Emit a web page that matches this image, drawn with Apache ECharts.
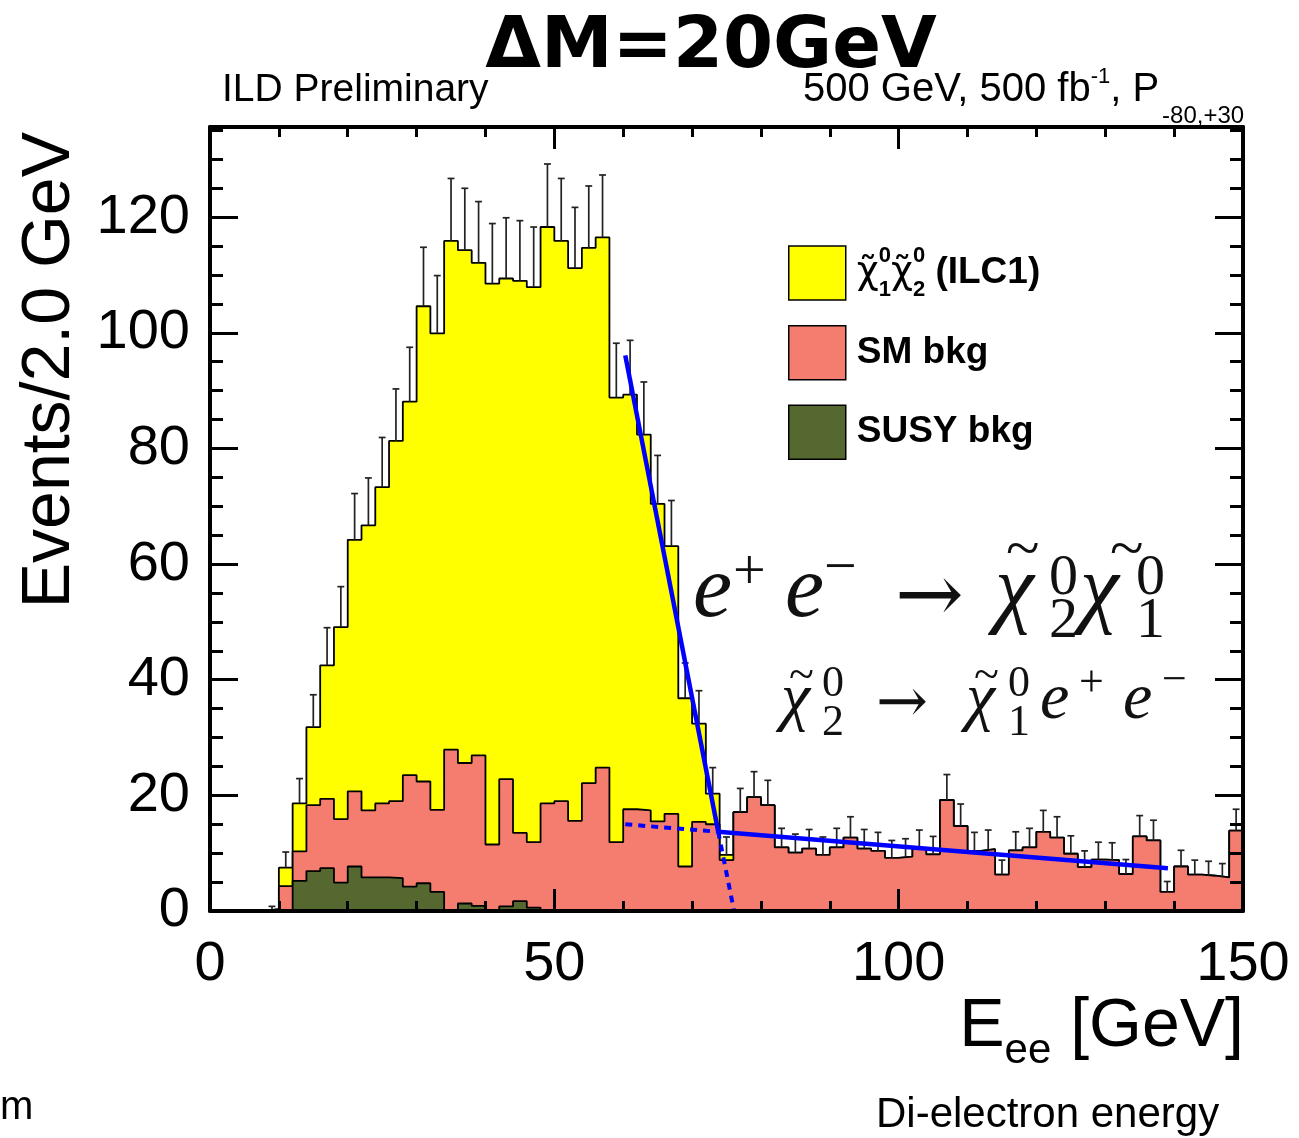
<!DOCTYPE html>
<html>
<head>
<meta charset="utf-8">
<script src="https://cdn.jsdelivr.net/npm/echarts@6/dist/echarts.min.js"></script>
<style>
  html, body { margin: 0; padding: 0; background: #ffffff; }
  #chart { width: 1299px; height: 1138px; }
</style>
</head>
<body>
<div id="chart"></div>
<script>
// Di-electron energy histogram, 2 GeV bins from 0 to 150 GeV (75 bins)
const binWidth = 2;
const xMin = 0, xMax = 150;
const yMax = 135.6;
const xTickLabels = [0, 50, 100, 150];
const yTickLabels = [0, 20, 40, 60, 80, 100, 120];

// SUSY background (bottom of the stack)
const susyBkg = [
  0, 0, 0, 0, 0, 0, 5.2, 6.9, 7.4, 4.9,
  7.7, 5.8, 5.8, 5.7, 4.2, 4.8, 3.3, 0, 1.3, 0.9,
  0, 0.8, 1.7, 0.6, 0, 0, 0, 0, 0, 0,
  0, 0, 0, 0, 0, 0, 0, 0, 0, 0,
  0, 0, 0, 0, 0, 0, 0, 0, 0, 0,
  0, 0, 0, 0, 0, 0, 0, 0, 0, 0,
  0, 0, 0, 0, 0, 0, 0, 0, 0, 0,
  0, 0, 0, 0, 0
];

// SM background (middle of the stack)
const smBkg = [
  0, 0, 0, 0, 0.3, 4.3, 5.1, 11.4, 12.0, 11.0,
  13.0, 11.6, 12.8, 13.3, 19.3, 17.6, 14.2, 27.9, 24.3, 26.0,
  11.5, 22.0, 11.8, 11.3, 18.6, 19.0, 15.6, 22.1, 24.8, 11.9,
  17.6, 17.4, 15.5, 16.8, 7.7, 15.4, 15.0, 8.8, 17.1, 19.7,
  18.3, 11.0, 10.1, 10.8, 9.7, 11.0, 12.7, 10.8, 10.4, 9.2,
  9.4, 10.7, 9.8, 19.2, 14.7, 10.4, 10.7, 6.3, 10.5, 11.0,
  13.7, 12.7, 9.9, 7.6, 8.9, 8.8, 6.4, 12.9, 12.2, 3.3,
  7.7, 6.3, 6.1, 5.8, 13.9
];

// Signal chi1 chi2 (top of the stack)
const signal = [
  0, 0, 0, 0, 0, 3.2, 8.3, 13.5, 23.1, 33.2,
  43.5, 49.3, 54.7, 62.3, 64.6, 82.2, 82.4, 88.0, 88.7, 85.2,
  97.0, 86.6, 95.5, 96.0, 99.7, 96.9, 95.6, 92.6, 91.7, 76.9,
  71.7, 65.0, 54.9, 46.3, 29.1, 17.0, 5.3, 0.9, 0, 0,
  0, 0, 0, 0, 0, 0, 0, 0, 0, 0,
  0, 0, 0, 0, 0, 0, 0, 0, 0, 0,
  0, 0, 0, 0, 0, 0, 0, 0, 0, 0,
  0, 0, 0, 0, 0
];

// Statistical uncertainty drawn above each stacked bin
const statErr = [
  0, 0, 0, 0, 0.5, 2.7, 4.3, 5.6, 6.5, 7.0,
  8.0, 8.2, 8.6, 9.0, 9.4, 10.2, 10.0, 10.8, 10.7, 10.6,
  10.4, 10.5, 10.4, 10.4, 10.9, 10.8, 10.5, 10.7, 10.8, 9.4,
  9.4, 9.1, 8.4, 7.9, 6.1, 5.7, 4.5, 3.1, 4.1, 4.4,
  4.3, 3.3, 3.2, 3.3, 3.1, 3.3, 3.6, 3.3, 3.2, 3.0,
  3.1, 3.3, 3.1, 4.4, 3.8, 3.2, 3.3, 2.5, 3.2, 3.3,
  3.7, 3.6, 3.1, 2.8, 3.0, 3.0, 2.5, 3.6, 3.5, 1.8,
  2.8, 2.5, 2.5, 2.4, 3.7
];

// Straight-line fits of the spectrum edge and of the background tail
const fitEdge = [[60.3, 96.1], [73.8, 13.7]];
const fitTail = [[73.8, 13.7], [139.1, 7.4]];
const fitTailExtension = [[60.3, 15.0], [73.8, 13.7]];
const fitEdgeExtension = [[73.8, 13.7], [76.1, 0]];

const colors = { signal: '#ffff00', sm: '#f57d70', susy: '#546830', fit: '#0000ff' };
const sans = 'Liberation Sans, Arial, Helvetica, sans-serif';
const serif = 'Liberation Serif, Times New Roman, serif';

// Cumulative stack tops
const greenTop = susyBkg.slice();
const redTop = susyBkg.map((v, i) => v + smBkg[i]);
const yellowTop = redTop.map((v, i) => v + signal[i]);

// Points for a step outline: one point per bin low edge, plus the last upper edge
function stepPoints(values) {
  const pts = values.map((v, i) => [xMin + i * binWidth, v]);
  pts.push([xMin + values.length * binWidth, values[values.length - 1]]);
  return pts;
}

const errData = [];
yellowTop.forEach((v, i) => {
  if (v > 0) errData.push([xMin + (i + 0.5) * binWidth, v, statErr[i]]);
});

function histSeries(name, values, fill, z) {
  return {
    name: name, type: 'line', step: 'end', data: stepPoints(values),
    symbol: 'none', silent: true, z: z,
    lineStyle: { color: '#000', width: 1.8 },
    areaStyle: { color: fill, opacity: 1 }
  };
}

function fitSeries(data, dashed) {
  return {
    type: 'line', data: data, symbol: 'none', silent: true, z: 8,
    lineStyle: { color: colors.fit, width: dashed ? 4 : 4.5, type: dashed ? [7, 6] : 'solid' }
  };
}

const commonX = { type: 'value', min: xMin, max: xMax, splitLine: { show: false }, z: 10 };
const commonY = { type: 'value', min: 0, max: yMax, splitLine: { show: false }, z: 10 };
const tickLine = { color: '#000', width: 3 };
const frameLine = { show: true, onZero: false, lineStyle: { color: '#000', width: 4 } };
const noLine = { show: false, onZero: false };

const chart = echarts.init(document.getElementById('chart'), null, { renderer: 'canvas' });

chart.setOption({
  animation: false,
  backgroundColor: '#ffffff',
  grid: { left: 210, right: 56, top: 127, bottom: 227, containLabel: false, outerBoundsMode: 'none' },
  xAxis: [
    Object.assign({}, commonX, {
      position: 'bottom', interval: 10, axisLine: frameLine,
      axisTick: { inside: true, length: 10, lineStyle: tickLine },
      axisLabel: {
        formatter: v => (xTickLabels.indexOf(v) >= 0 ? String(v) : ''),
        fontSize: 56, fontFamily: sans, color: '#000', margin: 26
      }
    }),
    Object.assign({}, commonX, {
      position: 'bottom', interval: 50, axisLine: noLine,
      axisTick: { inside: true, length: 22, lineStyle: tickLine }, axisLabel: { show: false }
    }),
    Object.assign({}, commonX, {
      position: 'top', interval: 10, axisLine: frameLine,
      axisTick: { inside: true, length: 10, lineStyle: tickLine }, axisLabel: { show: false }
    }),
    Object.assign({}, commonX, {
      position: 'top', interval: 50, axisLine: noLine,
      axisTick: { inside: true, length: 22, lineStyle: tickLine }, axisLabel: { show: false }
    })
  ],
  yAxis: [
    Object.assign({}, commonY, {
      position: 'left', interval: 5, axisLine: frameLine,
      axisTick: { inside: true, length: 13, lineStyle: tickLine },
      axisLabel: {
        formatter: v => (yTickLabels.indexOf(v) >= 0 ? String(v) : ''),
        fontSize: 56, fontFamily: sans, color: '#000', margin: 20
      }
    }),
    Object.assign({}, commonY, {
      position: 'left', interval: 20, axisLine: noLine,
      axisTick: { inside: true, length: 28, lineStyle: tickLine }, axisLabel: { show: false }
    }),
    Object.assign({}, commonY, {
      position: 'right', interval: 5, axisLine: frameLine,
      axisTick: { inside: true, length: 13, lineStyle: tickLine }, axisLabel: { show: false }
    }),
    Object.assign({}, commonY, {
      position: 'right', interval: 20, axisLine: noLine,
      axisTick: { inside: true, length: 28, lineStyle: tickLine }, axisLabel: { show: false }
    })
  ],
  legend: {
    orient: 'vertical', left: 788, top: 245, padding: 0,
    itemWidth: 57, itemHeight: 54, itemGap: 24, selectedMode: false,
    data: [
      { name: 'signal', icon: 'rect', itemStyle: { color: colors.signal, borderColor: '#000', borderWidth: 1.5 } },
      { name: 'SM bkg', icon: 'rect', itemStyle: { color: colors.sm, borderColor: '#000', borderWidth: 1.5 } },
      { name: 'SUSY bkg', icon: 'rect', itemStyle: { color: colors.susy, borderColor: '#000', borderWidth: 1.5 } }
    ],
    formatter: name => name === 'signal'
      ? '{chi|χ̃}{sp|0}{sb|1}{chi|χ̃}{sp|0}{sb|2}{t| (ILC1)}'
      : name,
    textStyle: {
      fontSize: 37, fontWeight: 'bold', fontFamily: sans, color: '#000', padding: [0, 0, 0, 6],
      rich: {
        chi: { fontSize: 38, fontFamily: 'DejaVu Sans', fontWeight: 'normal', lineHeight: 56, verticalAlign: 'middle' },
        sp: { fontSize: 22, fontWeight: 'bold', fontFamily: sans, width: 0, lineHeight: 56, verticalAlign: 'top' },
        sb: { fontSize: 22, fontWeight: 'bold', fontFamily: sans, lineHeight: 56, verticalAlign: 'bottom' },
        t: { fontSize: 37, fontWeight: 'bold', fontFamily: sans, lineHeight: 56, verticalAlign: 'middle' }
      }
    }
  },
  series: [
    histSeries('signal', yellowTop, colors.signal, 2),
    histSeries('SM bkg', redTop, colors.sm, 3),
    histSeries('SUSY bkg', greenTop, colors.susy, 4),
    {
      type: 'custom', data: errData, silent: true, z: 5,
      renderItem: function (params, api) {
        const x = api.value(0), top = api.value(1), err = api.value(2);
        const p0 = api.coord([x, top]);
        const p1 = api.coord([x, top + err]);
        const half = api.size([binWidth, 0])[0] * 0.25;
        const style = { stroke: '#222', lineWidth: 1.7 };
        return {
          type: 'group',
          children: [
            { type: 'line', shape: { x1: p0[0], y1: p0[1], x2: p1[0], y2: p1[1] }, style: style },
            { type: 'line', shape: { x1: p1[0] - half, y1: p1[1], x2: p1[0] + half, y2: p1[1] }, style: style }
          ]
        };
      }
    },
    fitSeries(fitEdge, false),
    fitSeries(fitTail, false),
    fitSeries(fitTailExtension, true),
    fitSeries(fitEdgeExtension, true)
  ],
  graphic: buildTexts()
});

function t(x, baseline, text, size, extra) {
  return {
    type: 'text', x: x, y: baseline - 0.33 * size, silent: true, z: 20,
    style: Object.assign({
      text: text, fontSize: size, fontFamily: serif, fill: '#111',
      textAlign: 'left', textVerticalAlign: 'middle'
    }, extra || {})
  };
}

function buildTexts() {
  const els = [];
  // Headline
  els.push({
    type: 'text', x: 711, y: 48, silent: true, z: 20,
    style: { text: 'ΔM=20GeV', fontSize: 72, fontWeight: 'bold', fontFamily: 'DejaVu Sans',
             fill: '#000', textAlign: 'center', textVerticalAlign: 'middle' }
  });
  els.push({
    type: 'text', x: 222, y: 90, silent: true, z: 20,
    style: { text: 'ILD Preliminary', fontSize: 39, fontFamily: sans, fill: '#000',
             textAlign: 'left', textVerticalAlign: 'middle' }
  });
  els.push({
    type: 'text', x: 803, y: 90, silent: true, z: 20,
    style: {
      text: '{m|500 GeV, 500 fb}{u|-1}{m|, P}{d|-80,+30}',
      fontFamily: sans, fill: '#000', textAlign: 'left', textVerticalAlign: 'middle',
      rich: {
        m: { fontSize: 40, fontFamily: sans, lineHeight: 76, verticalAlign: 'middle' },
        u: { fontSize: 22, fontFamily: sans, lineHeight: 76, verticalAlign: 'top', padding: [14, 0, 0, 0] },
        d: { fontSize: 24, fontFamily: sans, lineHeight: 76, verticalAlign: 'bottom', padding: [0, 0, 0, 3] }
      }
    }
  });
  // Axis titles
  els.push({
    type: 'text', x: 50, y: 132, rotation: Math.PI / 2, silent: true, z: 20,
    style: { text: 'Events/2.0 GeV', fontSize: 68, fontFamily: sans, fill: '#000',
             textAlign: 'right', textVerticalAlign: 'middle' }
  });
  els.push({
    type: 'text', x: 1244, y: 1027, silent: true, z: 20,
    style: {
      text: '{m|E}{s|ee}{m| [GeV]}', fill: '#000', textAlign: 'right', textVerticalAlign: 'middle',
      rich: {
        m: { fontSize: 68, fontFamily: sans, lineHeight: 90, verticalAlign: 'middle' },
        s: { fontSize: 42, fontFamily: sans, lineHeight: 90, verticalAlign: 'bottom' }
      }
    }
  });
  els.push({
    type: 'text', x: 0, y: 1108, silent: true, z: 20,
    style: { text: 'm', fontSize: 40, fontFamily: sans, fill: '#000', textAlign: 'left', textVerticalAlign: 'middle' }
  });
  els.push({
    type: 'text', x: 876, y: 1115, silent: true, z: 20,
    style: { text: 'Di-electron energy', fontSize: 42, fontFamily: sans, fill: '#000',
             textAlign: 'left', textVerticalAlign: 'middle' }
  });

  // Production process: e+ e- -> chi2 chi1
  const it = { fontStyle: 'italic' };
  const arrowFont = { fontFamily: 'DejaVu Serif' };
  els.push(t(693, 622, 'e', 88, it));
  els.push(t(733, 593, '+', 58));
  els.push(t(785, 622, 'e', 88, it));
  els.push(t(824, 589, '−', 58));
  els.push(t(895, 628, '→', 82, arrowFont));
  els.push(t(995, 622, 'χ', 88, it));
  els.push(t(1006, 572, '~', 62));
  els.push(t(1049, 598, '0', 58));
  els.push(t(1049, 641, '2', 58));
  els.push(t(1080, 622, 'χ', 88, it));
  els.push(t(1110, 572, '~', 62));
  els.push(t(1136, 598, '0', 58));
  els.push(t(1136, 641, '1', 58));

  // Decay: chi2 -> chi1 e+ e-
  els.push(t(781, 722, 'χ', 66, it));
  els.push(t(789, 692, '~', 46));
  els.push(t(822, 699, '0', 44));
  els.push(t(822, 738, '2', 44));
  els.push(t(876, 726, '→', 62, arrowFont));
  els.push(t(966, 722, 'χ', 66, it));
  els.push(t(974, 692, '~', 46));
  els.push(t(1008, 699, '0', 44));
  els.push(t(1008, 738, '1', 44));
  els.push(t(1040, 722, 'e', 66, it));
  els.push(t(1079, 699, '+', 44));
  els.push(t(1123, 722, 'e', 66, it));
  els.push(t(1162, 696, '−', 44));
  return els;
}
</script>
</body>
</html>
